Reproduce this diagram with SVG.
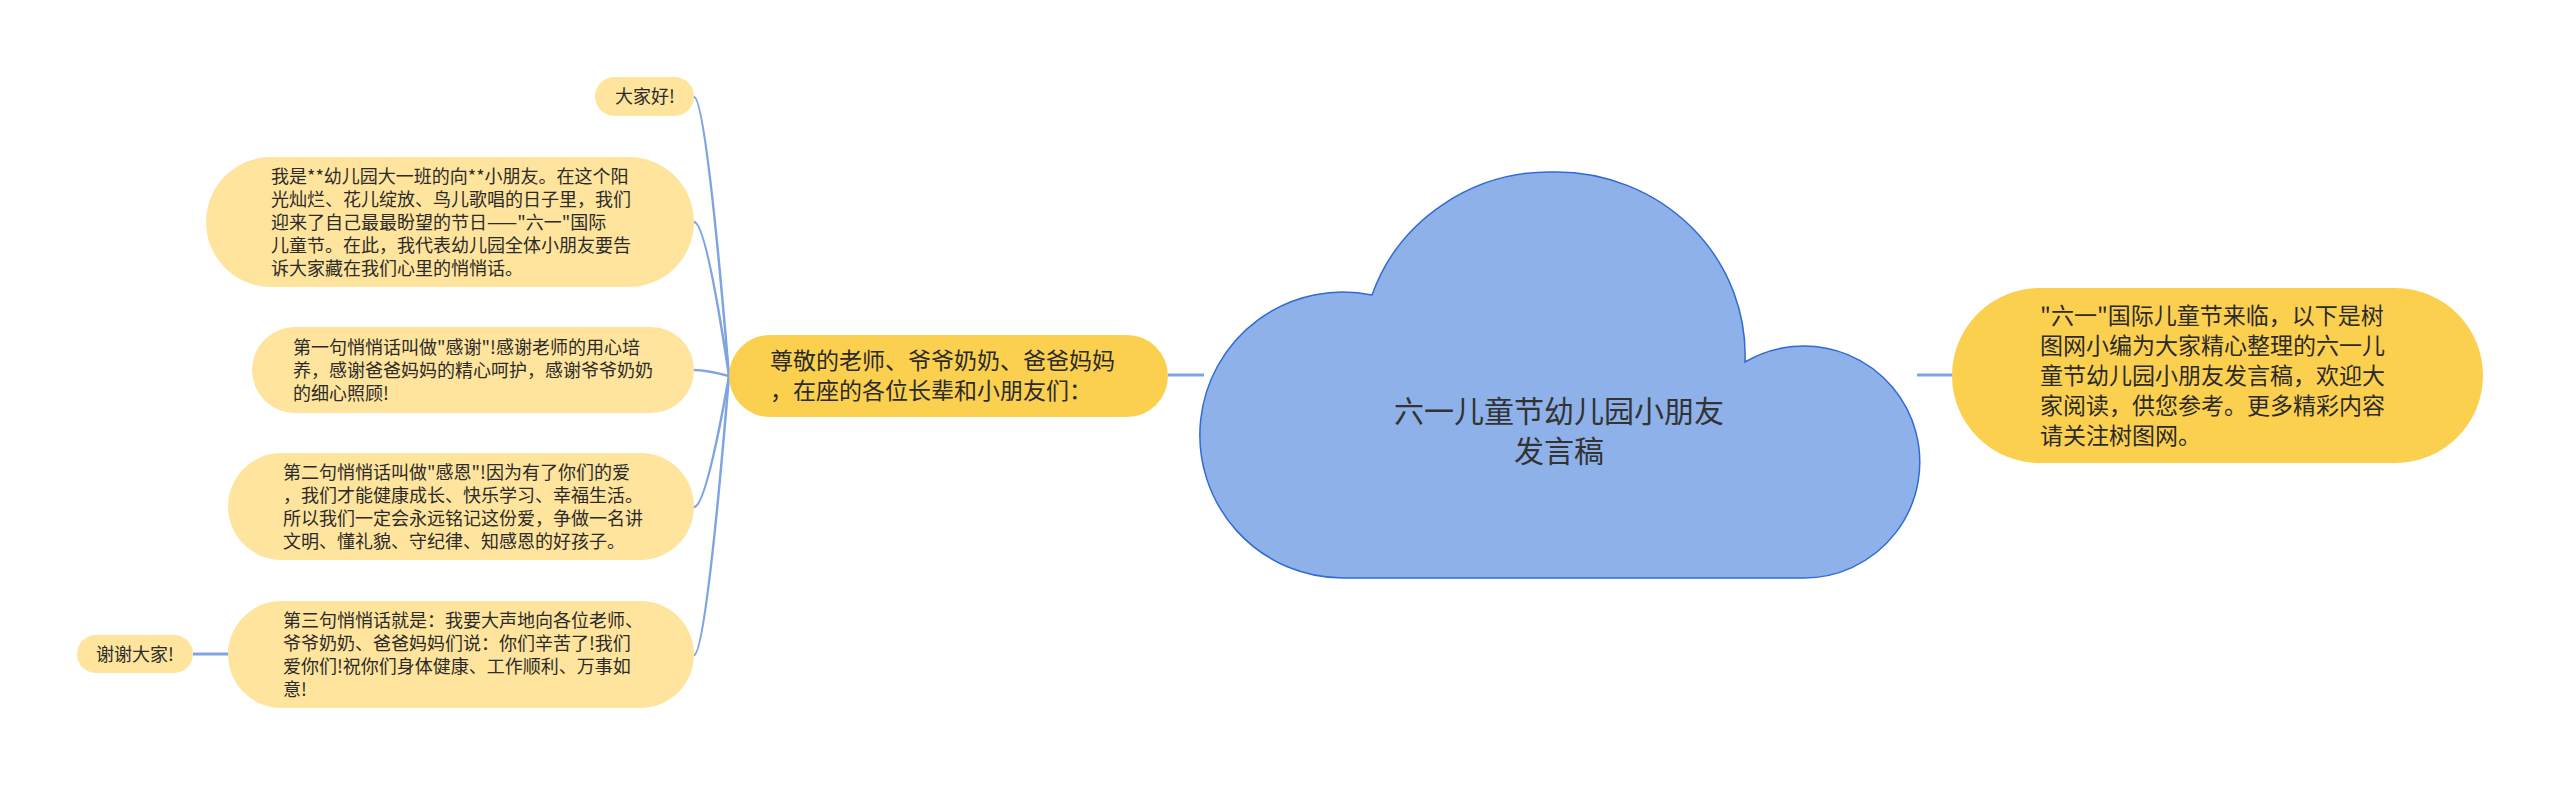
<svg xmlns="http://www.w3.org/2000/svg" width="2560" height="786" viewBox="0 0 2560 786">
<style>
text{font-family:"Noto Sans CJK SC","Noto Sans",sans-serif;fill:#2b2b2b}
.leaf{fill:#fee49c}
.main{fill:#fcd04f}
.s{font-size:18px}
.m{font-size:23px}
.c{font-size:30px;fill:#333}
.ln{fill:none;stroke:#7ea4e2;stroke-width:3}
.cv{fill:none;stroke:#7ea4e2;stroke-width:2.5}
</style>
<rect width="2560" height="786" fill="#ffffff"/>
<g id="connectors">
<path class="ln" d="M1168 375 L1204 375"/>
<path class="ln" d="M1917 375 L1953 375"/>
<path class="ln" d="M193 654 L229 654"/>
<path class="cv" d="M729 376 Q706 97 694 97"/>
<path class="cv" d="M729 376 Q706 222 694 222"/>
<path class="cv" d="M729 376 Q706 370 694 370"/>
<path class="cv" d="M729 376 Q706 507 694 507"/>
<path class="cv" d="M729 376 Q706 655 694 655"/>
</g>
<g id="center">
<path d="M1372 295 A189 183 0 0 1 1556 172 A189 183 0 0 1 1745 362 A116 116 0 1 1 1803 578 L1343 578 A143 143 0 1 1 1372 295 Z" fill="#8eb1ea" stroke="#2f6bd3" stroke-width="1.5"/>
<text class="c" text-anchor="middle"><tspan x="1559" y="422">六一儿童节幼儿园小朋友</tspan><tspan x="1559" y="462">发言稿</tspan></text>
</g>
<g id="main">
<rect class="main" x="729" y="335" width="439" height="82" rx="41"/>
<text class="m"><tspan x="770" y="369">尊敬的老师、爷爷奶奶、爸爸妈妈</tspan><tspan x="770" y="399">，在座的各位长辈和小朋友们：</tspan></text>
</g>
<g id="summary">
<rect class="main" x="1952" y="288" width="531" height="175" rx="87.5"/>
<text class="m"><tspan x="2040" y="324">"六一"国际儿童节来临，以下是树</tspan><tspan x="2040" y="354">图网小编为大家精心整理的六一儿</tspan><tspan x="2040" y="384">童节幼儿园小朋友发言稿，欢迎大</tspan><tspan x="2040" y="414">家阅读，供您参考。更多精彩内容</tspan><tspan x="2040" y="444">请关注树图网。</tspan></text>
</g>
<g id="hello">
<rect class="leaf" x="595" y="77" width="99" height="39" rx="19.5"/>
<text class="s" text-anchor="middle" x="645" y="103">大家好!</text>
</g>
<g id="intro">
<rect class="leaf" x="206" y="157" width="488" height="130" rx="65"/>
<text class="s"><tspan x="271" y="182.5">我是**幼儿园大一班的向**小朋友。在这个阳</tspan><tspan x="271" y="205.5">光灿烂、花儿绽放、鸟儿歌唱的日子里，我们</tspan><tspan x="271" y="228.5">迎来了自己最最盼望的节日——"六一"国际</tspan><tspan x="271" y="251.5">儿童节。在此，我代表幼儿园全体小朋友要告</tspan><tspan x="271" y="274.5">诉大家藏在我们心里的悄悄话。</tspan></text>
</g>
<g id="first">
<rect class="leaf" x="252" y="327" width="442" height="86" rx="43"/>
<text class="s"><tspan x="293" y="353.5">第一句悄悄话叫做"感谢"!感谢老师的用心培</tspan><tspan x="293" y="376.5">养，感谢爸爸妈妈的精心呵护，感谢爷爷奶奶</tspan><tspan x="293" y="399.5">的细心照顾!</tspan></text>
</g>
<g id="second">
<rect class="leaf" x="228" y="453" width="466" height="107" rx="53.5"/>
<text class="s"><tspan x="283" y="478.5">第二句悄悄话叫做"感恩"!因为有了你们的爱</tspan><tspan x="283" y="501.5">，我们才能健康成长、快乐学习、幸福生活。</tspan><tspan x="283" y="524.5">所以我们一定会永远铭记这份爱，争做一名讲</tspan><tspan x="283" y="547.5">文明、懂礼貌、守纪律、知感恩的好孩子。</tspan></text>
</g>
<g id="third">
<rect class="leaf" x="228" y="601" width="466" height="107" rx="53.5"/>
<text class="s"><tspan x="283" y="626.5">第三句悄悄话就是：我要大声地向各位老师、</tspan><tspan x="283" y="649.5">爷爷奶奶、爸爸妈妈们说：你们辛苦了!我们</tspan><tspan x="283" y="672.5">爱你们!祝你们身体健康、工作顺利、万事如</tspan><tspan x="283" y="695.5">意!</tspan></text>
</g>
<g id="thanks">
<rect class="leaf" x="77" y="635" width="116" height="38" rx="19"/>
<text class="s" text-anchor="middle" x="135" y="660.5">谢谢大家!</text>
</g>
</svg>
